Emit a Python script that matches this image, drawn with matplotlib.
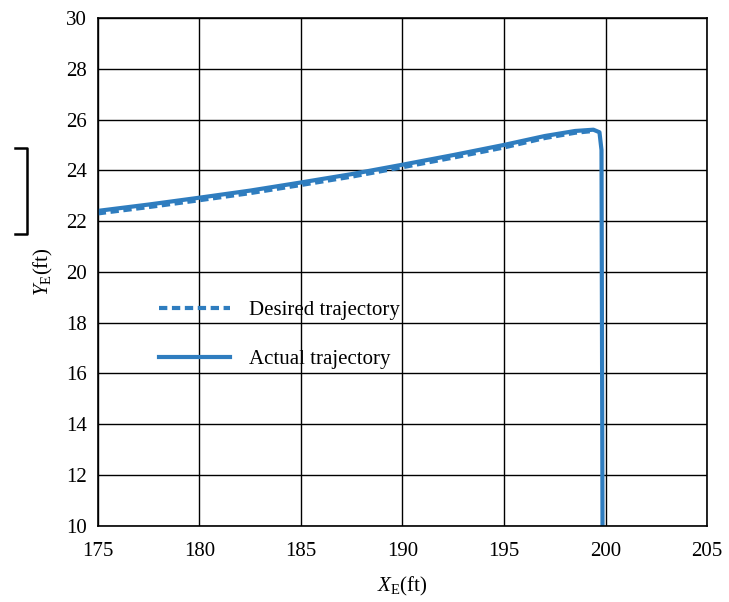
import matplotlib
matplotlib.use("Agg")
import matplotlib.pyplot as plt
from matplotlib.lines import Line2D

plt.rcParams["font.family"] = ["Liberation Serif", "DejaVu Serif"]
plt.rcParams["mathtext.fontset"] = "custom"
plt.rcParams["mathtext.it"] = "Liberation Serif:italic"
plt.rcParams["mathtext.rm"] = "Liberation Serif"

# trajectories (X_E ft, Y_E ft)
actual_x = [175, 177.5, 180, 182.5, 185, 187.5, 190, 192.5, 195, 197, 198.5, 199.4, 199.7, 199.8, 199.85]
actual_y = [22.4, 22.65, 22.92, 23.2, 23.52, 23.85, 24.22, 24.6, 25.0, 25.35, 25.55, 25.6, 25.5, 24.8, 10.0]
desired_x = [175, 177.5, 180, 182.5, 185, 187.5, 190, 192.5, 195, 197, 198.5, 199.4]
desired_y = [22.3, 22.55, 22.82, 23.1, 23.42, 23.75, 24.12, 24.5, 24.9, 25.27, 25.48, 25.55]

x_ticks = [175, 180, 185, 190, 195, 200, 205]
y_ticks = [10, 12, 14, 16, 18, 20, 22, 24, 26, 28, 30]

blue = "#2f7dbf"

fig = plt.figure(figsize=(7.29, 6.02), dpi=100)
ax = fig.add_axes([0.134, 0.127, 0.836, 0.843])

ax.plot(desired_x, desired_y, color=blue, lw=3.0, ls=(0, (2.0, 1.1)),
        label="Desired trajectory")
ax.plot(actual_x, actual_y, color=blue, lw=3.0, label="Actual trajectory")

ax.set_xlim(175, 205)
ax.set_ylim(10, 30)
ax.set_xticks(x_ticks)
ax.set_yticks(y_ticks)
ax.grid(True, color="black", lw=1.0)
ax.tick_params(axis="x", length=0, labelsize=15, pad=12)
ax.tick_params(axis="y", length=0, labelsize=15, pad=8)
for s in ax.spines.values():
    s.set_linewidth(1.2)

ax.set_xlabel(r"$X_{\mathrm{E}}$(ft)", fontsize=15, labelpad=10)
ax.set_ylabel(r"$Y_{\mathrm{E}}$(ft)", fontsize=15, labelpad=8)

ax.legend(loc="upper left", bbox_to_anchor=(0.07, 0.48), frameon=False,
          fontsize=15, handlelength=3.4, handletextpad=0.9, labelspacing=1.4)

# bracket mark at the left margin of the scan
fig.add_artist(Line2D([15 / 729, 27 / 729, 27 / 729, 15 / 729],
                      [1 - 148 / 602, 1 - 148 / 602, 1 - 234 / 602, 1 - 234 / 602],
                      color="black", lw=1.8))

fig.savefig("out.png", dpi=100)
